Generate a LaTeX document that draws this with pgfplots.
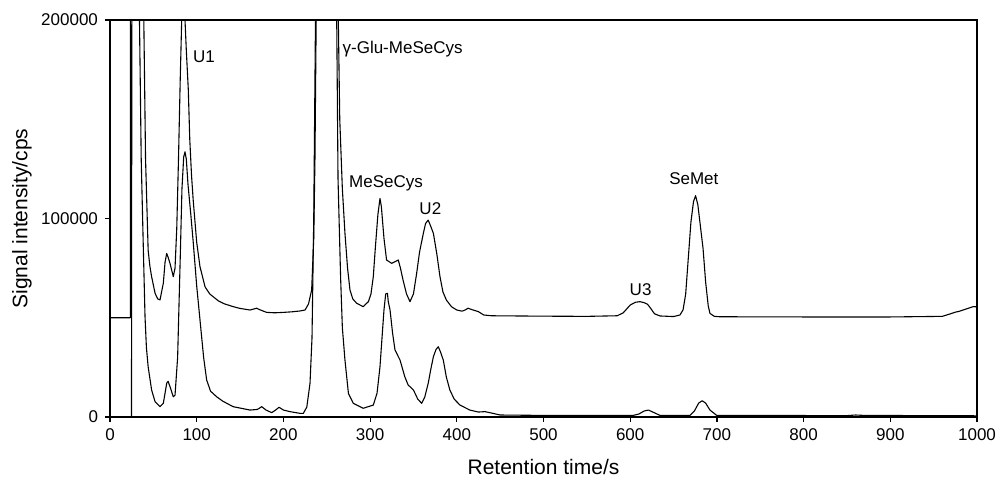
\documentclass[border=0pt]{standalone}
\usepackage{fontspec}
\setmainfont{Liberation Sans}
\usepackage{pgfplots}
\pgfplotsset{compat=1.18}

\begin{document}
\begin{tikzpicture}
\begin{axis}[
    name=ax,
    scale only axis,
    width=433.5bp, height=198.5bp,
    xmin=0, xmax=1000, ymin=0, ymax=200000,
    xtick={0,100,...,1000},
    ytick={0,100000,200000},
    scaled y ticks=false,
    /pgf/number format/assume math mode=true,
    yticklabel style={/pgf/number format/fixed, /pgf/number format/1000 sep={}},
    xticklabel style={/pgf/number format/1000 sep={}, inner xsep=0pt},
    tick align=outside,
    major tick length=2.5bp,
    tick style={black, line width=0.6pt},
    xtick pos=bottom, ytick pos=left,
    axis line style={line width=0.7pt},
    tick label style={font=\fontsize{8.5bp}{10bp}\selectfont},
    label style={font=\fontsize{10.5bp}{12bp}\selectfont, inner sep=1pt},
    xlabel={Retention time/s},
    ylabel={Signal intensity/cps},
    xlabel style={at={(axis description cs:0.5,-0.126)}, anchor=center},
    ylabel style={at={(axis description cs:-0.1015,0.5)}, anchor=center},
]

% upper trace (offset sample)
\addplot[black, no marks, line width=0.55pt, line join=round] coordinates {
(0,50000)(23.5,50000)(23.8,400000)(30,700000)(36,400000)(39,200000)(41,130000)
(44,84000)(46,76000)(48,70700)(52,62300)(55,59500)(57.7,59000)(61.5,67400)
(63.5,78000)(65.4,82400)(67,80500)(69.2,77400)(73,70700)(75,75000)(77,95000)
(79,130000)(81,170000)(82.7,200000)(84.6,250000)(86.5,200000)(88,185000)
(90.3,165000)(92,140000)(94,122000)(96,109000)(100,88000)(103.8,75700)
(109.6,65600)(115,62000)(119,60600)(125,58500)(132,57000)(142,55600)(150,54700)
(161.5,53900)(165,54300)(169,54800)(173,54000)(180.7,52700)(190,52500)(200,52700)
(210,53000)(219,53400)(225,53900)(229,57000)(232.6,64000)(235,90000)(236.4,130000)
(238,210000)(240,400000)(250,800000)(260,400000)(263,210000)(265,150000)
(268,115000)(271,92500)(274,75000)(276.8,64000)(280,59500)(284.5,57300)
(292,55600)(298,58100)(301,62000)(303.7,70700)(306,85000)(309,102000)
(311.4,110100)(313,106000)(316,90000)(319,79100)(324.9,77400)(330,78500)
(332.5,79100)(335,75000)(338,69000)(342,62000)(346,58100)(350,62000)
(353.7,72400)(357,83000)(361.4,92500)(364,97500)(367,99200)(370,96000)
(373,92500)(377,82000)(380.6,70700)(384,63000)(388,58900)(394,55500)
(400,53900)(406,53300)(410,54000)(413,54800)(418,54000)(424.8,53100)
(431,51400)(440,51000)(469,50900)(500,50800)(550,50700)(585,51000)
(592,52500)(600,56400)(606,57800)(611.3,58100)(616,57600)(620,56800)
(624,54500)(628,52000)(634.4,50900)(650,50600)(657.4,51400)(661,54000)
(664,62000)(667,80000)(670,98000)(673,108500)(675.4,111500)(678,107000)
(681,96000)(684,85000)(687,68000)(690,56000)(692,52200)(697,50700)
(703.6,50500)(800,50400)(900,50400)(960,50700)(968,51800)(975,52800)
(980,53300)(988,54500)(995.7,55600)(1000,55500)
};

% lower trace
\addplot[black, no marks, line width=0.55pt, line join=round] coordinates {
(0,0)(24.8,0)(25.1,165000)(25.4,400000)(30,600000)(33,300000)(34,200000)
(36,130000)(38.5,84000)(40.4,50500)(42,35000)(44,25300)(48,13600)(52,7700)
(57.7,5200)(61.5,6900)(63.5,12000)(65.4,17000)(67,18000)(69.2,15300)
(73,10200)(75,11000)(78,30000)(81,80000)(83,115000)(85,131000)(86.5,133600)
(88,130000)(90,117000)(93,103000)(96,88000)(100,66000)(104,48000)(108,30000)
(111.5,18600)(116,13000)(123,10200)(130,8000)(142,5200)(150,4500)
(161.5,3500)(170,3800)(175,5200)(180,3500)(186.5,2200)(191,3500)(195,4900)
(200,3500)(207.6,2700)(219,1850)(223,1850)(227,5000)(230.7,17000)(233,40000)
(235,100000)(237,200000)(239,350000)(250,700000)(261,300000)(261.5,200000)
(263,120000)(266,70000)(268,45000)(271,28700)(275,11900)(280.6,6900)
(292,4400)(303.7,6000)(308,12000)(311.4,25300)(316,53900)(318,62000)
(320,62300)(321,58000)(323,53900)(326,42000)(328.7,33800)(334.5,28700)
(340,20300)(344,16000)(346,15300)(350,13600)(355,9000)(359.5,6900)
(363,10000)(367,16900)(370,24000)(373,30400)(376,34000)(378.6,35400)
(381,33000)(384.4,28700)(388,20000)(392,13600)(397,9000)(403.7,6000)
(415,3500)(424.8,2500)(432.5,2700)(440,2000)(450,1000)(500,800)(603.6,800)
(610,1500)(616,3000)(621,3500)(626,2500)(634.4,800)(669,800)(674,3000)
(679,7000)(683,8200)(687,7000)(692,3500)(699.8,800)(850,700)(860,1000)
(870,800)(1000,600)
};

\begin{scope}[every node/.style={font=\fontsize{8.5bp}{10bp}\selectfont, inner sep=0pt, anchor=center}]
\node at (axis cs:108.4,181500) {U1};
\node at (axis cs:337.5,185200) {γ-Glu-MeSeCys};
\node at (axis cs:318.4,117700) {MeSeCys};
\node at (axis cs:369.5,105100) {U2};
\node at (axis cs:612,64300) {U3};
\node at (axis cs:673.4,120200) {SeMet};
\end{scope}
\end{axis}
\path ([shift={(-55bp,-33bp)}]ax.south west) rectangle ([shift={(10.5bp,10bp)}]ax.north east);
\end{tikzpicture}
\end{document}
